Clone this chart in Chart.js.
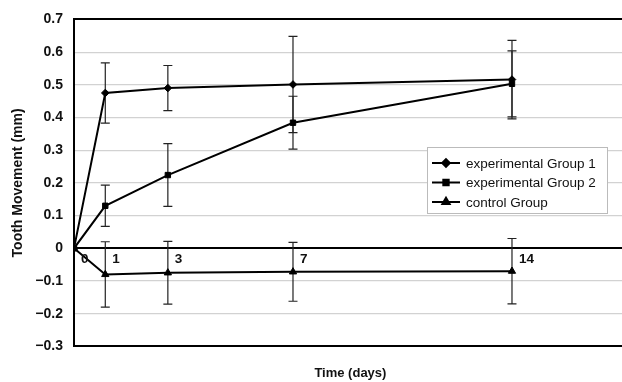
<!DOCTYPE html>
<html lang="en">
<head>
    <meta charset="UTF-8">
    <title>Tooth Movement</title>
    <script src="https://cdn.jsdelivr.net/npm/chart.js"></script>
    <style>
        html, body {
            margin: 0;
            padding: 0;
            background: white;
            overflow: hidden;
        }
        .chart-box {
            position: relative;
            width: 632px;
            height: 382px;
        }
    </style>
</head>
<body>
    <div class="chart-box">
        <canvas id="toothChart"></canvas>
    </div>

    <script>
        // days and mean tooth movement (mm) with error bar half-widths
        let days = [0, 1, 3, 7, 14];
        let xTicks = ["0", "1", "3", "7", "14"];
        let group1 = [0, 0.475, 0.49, 0.501, 0.516];
        let group1Err = [0, 0.092, 0.069, 0.147, 0.12];
        let group2 = [0, 0.13, 0.224, 0.384, 0.503];
        let group2Err = [0, 0.063, 0.096, 0.081, 0.101];
        let control = [0, -0.08, -0.075, -0.072, -0.07];
        let controlErr = [0, 0.1, 0.096, 0.09, 0.1];
        let labels = ["experimental Group 1", "experimental Group 2", "control Group"];

        function points(values) {
            return days.map((d, i) => ({ x: d, y: values[i] }));
        }

        // vertical error bars with caps
        const errorBars = {
            id: 'errorBars',
            beforeDatasetsDraw(chart) {
                const ctx = chart.ctx;
                const xs = chart.scales.x, ys = chart.scales.y;
                ctx.save();
                ctx.strokeStyle = '#222';
                ctx.lineWidth = 1.2;
                chart.data.datasets.forEach(ds => {
                    ds.data.forEach((p, i) => {
                        const e = ds.errors[i];
                        if (!e) return;
                        const x = xs.getPixelForValue(p.x);
                        const top = ys.getPixelForValue(p.y + e);
                        const bot = ys.getPixelForValue(p.y - e);
                        ctx.beginPath();
                        ctx.moveTo(x, top); ctx.lineTo(x, bot);
                        ctx.moveTo(x - 4.5, top); ctx.lineTo(x + 4.5, top);
                        ctx.moveTo(x - 4.5, bot); ctx.lineTo(x + 4.5, bot);
                        ctx.stroke();
                    });
                });
                ctx.restore();
            }
        };

        // day labels sitting just under the zero line, and the boxed legend
        const extras = {
            id: 'extras',
            afterDatasetsDraw(chart) {
                const ctx = chart.ctx;
                const xs = chart.scales.x, ys = chart.scales.y;
                const zero = ys.getPixelForValue(0);
                ctx.save();
                ctx.fillStyle = '#111';
                ctx.font = 'bold 13.5px "Liberation Sans", Arial, sans-serif';
                ctx.textAlign = 'left';
                ctx.textBaseline = 'middle';
                days.forEach((d, i) => {
                    ctx.fillText(xTicks[i], xs.getPixelForValue(d) + 7, zero + 11);
                });

                // legend
                ctx.fillStyle = 'white';
                ctx.fillRect(427, 147, 180, 66);
                ctx.strokeStyle = '#bbb';
                ctx.lineWidth = 1;
                ctx.strokeRect(427.5, 147.5, 180, 66);
                const rows = [163, 182.5, 202];
                chart.data.datasets.forEach((ds, i) => {
                    const y = rows[i];
                    ctx.strokeStyle = '#000';
                    ctx.lineWidth = 2;
                    ctx.beginPath();
                    ctx.moveTo(432, y); ctx.lineTo(460, y);
                    ctx.stroke();
                    ctx.fillStyle = '#000';
                    Chart.helpers.drawPoint(ctx, {
                        pointStyle: ds.pointStyle, radius: ds.pointRadius, rotation: 0, borderWidth: 1
                    }, 446, y);
                    ctx.fillStyle = '#111';
                    ctx.font = '13.5px "Liberation Sans", Arial, sans-serif';
                    ctx.fillText(ds.label, 466, y + 1);
                });
                ctx.restore();
            }
        };

        function series(label, values, errs, style, radius) {
            return {
                label: label,
                data: points(values),
                errors: errs,
                borderColor: '#000',
                backgroundColor: '#000',
                borderWidth: 2,
                pointStyle: style,
                pointRadius: radius,
                pointBorderWidth: 1,
                tension: 0
            };
        }

        new Chart(document.getElementById('toothChart'), {
            type: 'line',
            data: {
                datasets: [
                    series(labels[0], group1, group1Err, 'rectRot', 3.8),
                    series(labels[1], group2, group2Err, 'rect', 3.8),
                    series(labels[2], control, controlErr, 'triangle', 4.2)
                ]
            },
            options: {
                responsive: true,
                maintainAspectRatio: false,
                animation: false,
                layout: { padding: { top: 14, left: 0, right: 0, bottom: 0 } },
                plugins: {
                    legend: { display: false },
                    tooltip: { enabled: false }
                },
                scales: {
                    x: {
                        type: 'linear',
                        min: 0,
                        max: 17.67,
                        ticks: { display: false },
                        grid: { display: false, drawTicks: false },
                        border: { display: true, color: '#000', width: 2 },
                        title: {
                            display: true,
                            text: 'Time (days)',
                            color: '#111',
                            font: { family: '"Liberation Sans", Arial, sans-serif', size: 13, weight: 'bold' },
                            padding: { top: 19, bottom: 1 }
                        }
                    },
                    y: {
                        min: -0.3,
                        max: 0.7,
                        afterFit(scale) { scale.width = 74; },
                        ticks: {
                            stepSize: 0.1,
                            padding: 11,
                            color: '#111',
                            font: { family: '"Liberation Sans", Arial, sans-serif', size: 14, weight: 'bold' },
                            callback: v => {
                                const r = Math.round(v * 10) / 10;
                                return r === 0 ? '0' : r.toFixed(1).replace('-', '\u2212');
                            }
                        },
                        grid: {
                            drawTicks: false,
                            color: c => {
                                const v = Math.round(c.tick.value * 10) / 10;
                                return (v === 0 || v === 0.7 || v === -0.3) ? '#000' : '#d2d2d2';
                            },
                            lineWidth: c => {
                                const v = Math.round(c.tick.value * 10) / 10;
                                return (v === 0 || v === 0.7 || v === -0.3) ? 2 : 1.2;
                            }
                        },
                        border: { display: true, color: '#000', width: 2 },
                        title: {
                            display: true,
                            text: 'Tooth Movement (mm)',
                            color: '#111',
                            font: { family: '"Liberation Sans", Arial, sans-serif', size: 14, weight: 'bold' },
                            padding: { top: 10, bottom: 0 }
                        }
                    }
                }
            },
            plugins: [errorBars, extras]
        });
    </script>
</body>
</html>
